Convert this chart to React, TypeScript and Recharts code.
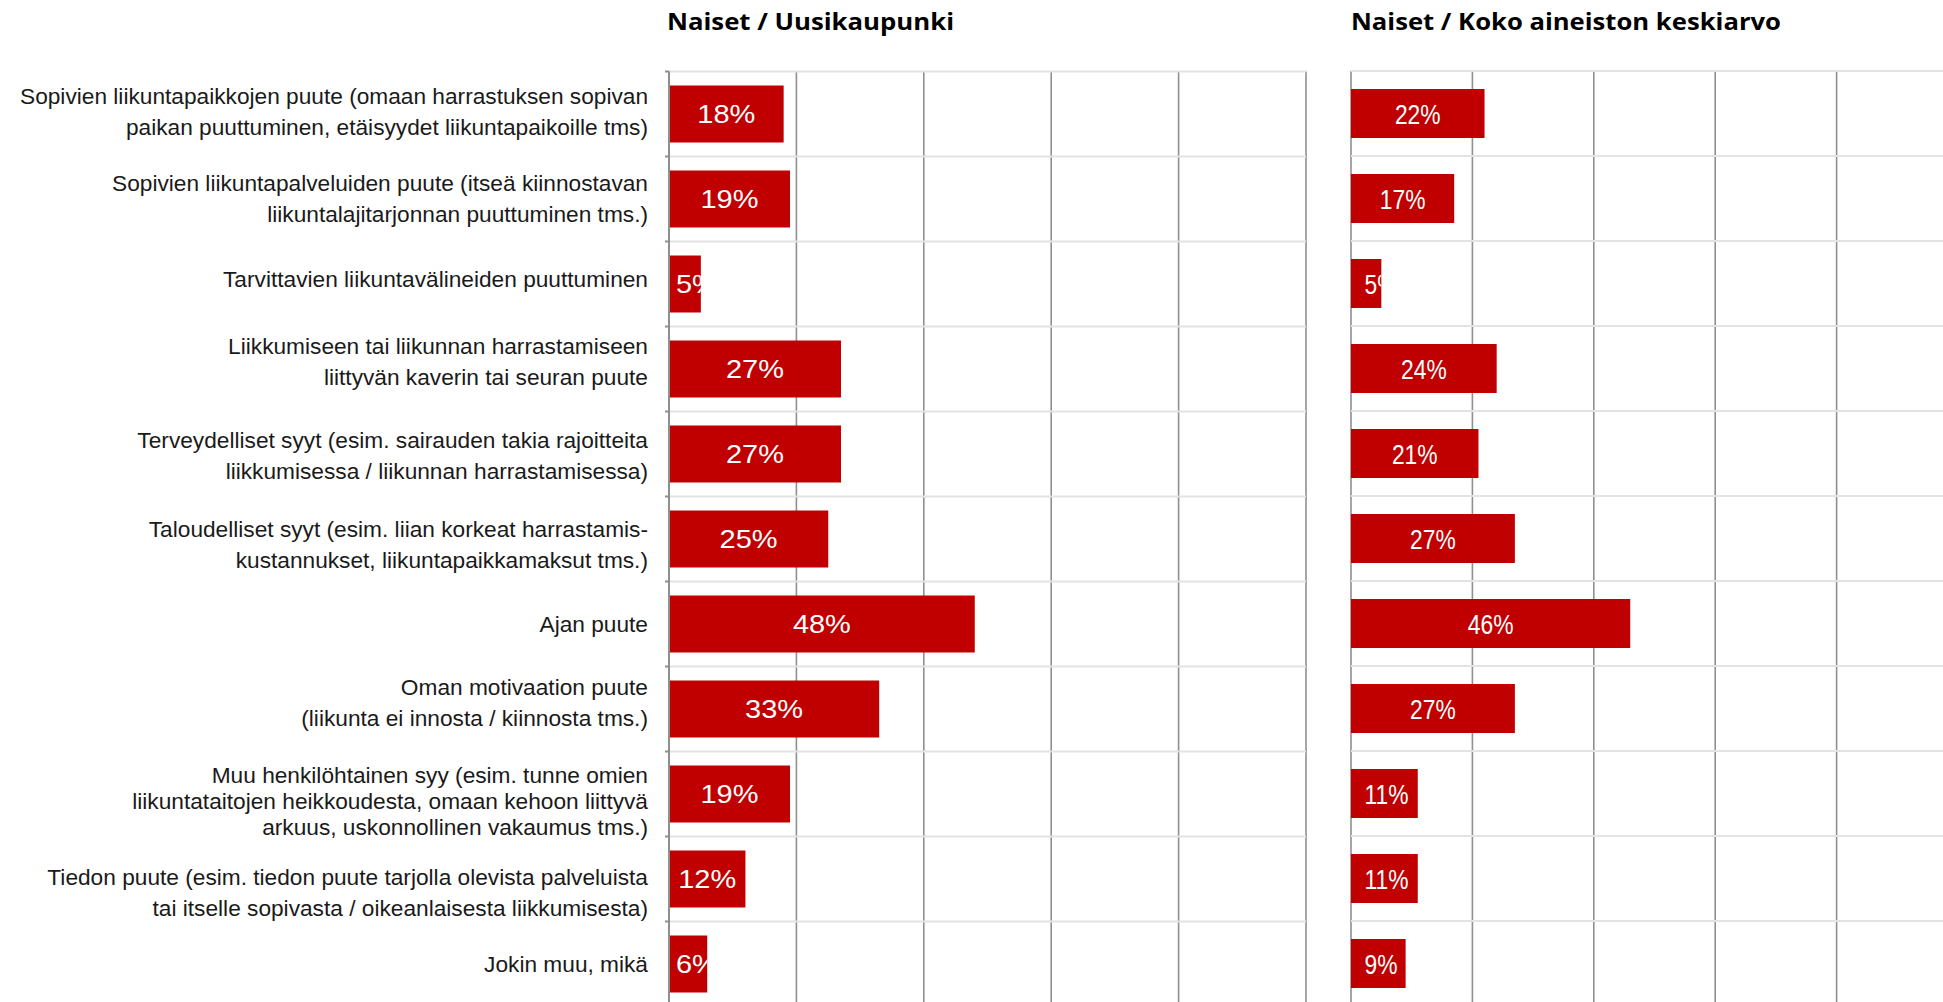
import React from 'react';
import { BarChart, Bar, XAxis, YAxis, CartesianGrid, LabelList } from 'recharts';

// ---------- data ----------
const categories: string[] = [
  'Sopivien liikuntapaikkojen puute (omaan harrastuksen sopivan\npaikan puuttuminen, etäisyydet liikuntapaikoille tms)',
  'Sopivien liikuntapalveluiden puute (itseä kiinnostavan\nliikuntalajitarjonnan puuttuminen tms.)',
  'Tarvittavien liikuntavälineiden puuttuminen',
  'Liikkumiseen tai liikunnan harrastamiseen\nliittyvän kaverin tai seuran puute',
  'Terveydelliset syyt (esim. sairauden takia rajoitteita\nliikkumisessa / liikunnan harrastamisessa)',
  'Taloudelliset syyt (esim. liian korkeat harrastamis-\nkustannukset, liikuntapaikkamaksut tms.)',
  'Ajan puute',
  'Oman motivaation puute\n(liikunta ei innosta / kiinnosta tms.)',
  'Muu henkilöhtainen syy (esim. tunne omien\nliikuntataitojen heikkoudesta, omaan kehoon liittyvä\narkuus, uskonnollinen vakaumus tms.)',
  'Tiedon puute (esim. tiedon puute tarjolla olevista palveluista\ntai itselle sopivasta / oikeanlaisesta liikkumisesta)',
  'Jokin muu, mikä',
];
const uusikaupunki: number[] = [18, 19, 5, 27, 27, 25, 48, 33, 19, 12, 6];
const kokoAineisto: number[] = [22, 17, 5, 24, 21, 27, 46, 27, 11, 11, 9];
const xTicks: number[] = [0, 20, 40, 60, 80, 100];
const titles: string[] = ['Naiset / Uusikaupunki', 'Naiset / Koko aineiston keskiarvo'];

const data = categories.map((c, i) => ({
  category: c,
  uusikaupunki: uusikaupunki[i],
  koko: kokoAineisto[i],
}));

// ---------- layout / style ----------
const N = categories.length;
const PLOT_TOP = 71.5;
const ROW_H = 85;
const CHART_H = PLOT_TOP + N * ROW_H + 0.5;
const BAR_RED = '#C00000';
const V_GRID = '#8f8f8f';
const H_GRID = '#e3e3e3';
const TICK_SIZE = 4;
const TICK_MARGIN = 17;
const LABEL_FONT = "'Liberation Sans', Arial, sans-serif";
const TITLE_FONT = "'Open Sans', 'Noto Sans', sans-serif";
const LABEL_SIZE = 22;
const LABEL_NUDGE = [-1, 1, -3, -6, 3, 7, 2, -5, 9, 15, 2];

let measureCtx: CanvasRenderingContext2D | null | undefined;
function measureText(text: string): number {
  if (measureCtx === undefined) {
    try {
      const c = document.createElement('canvas');
      measureCtx = c.getContext('2d');
      if (measureCtx) measureCtx.font = `${LABEL_SIZE}px ${LABEL_FONT}`;
    } catch (e) {
      measureCtx = null;
    }
  }
  if (!measureCtx) return text.length * 11.5;
  return measureCtx.measureText(text).width;
}
let cachedScale: number | null = null;
function getLabelScale(): number {
  if (cachedScale !== null) return cachedScale;
  const w = measureText(categories[0].split('\n')[0]);
  cachedScale = w > 0 ? 628 / w : 0.9;
  return cachedScale;
}

const CategoryTick = (props: any) => {
  const { x, y, payload } = props;
  const value = String(payload.value);
  const idx = categories.indexOf(value);
  const lines = value.split('\n');
  const n = lines.length;
  const gap = n >= 3 ? 25.8 : 31;
  const cy = Number(y) + (LABEL_NUDGE[idx] ?? 0);
  const axisX = Number(x) + TICK_SIZE + TICK_MARGIN;
  const k = getLabelScale();
  return (
    <g>
      <line
        x1={axisX - TICK_SIZE}
        x2={axisX}
        y1={Number(y) - ROW_H / 2}
        y2={Number(y) - ROW_H / 2}
        stroke={V_GRID}
        strokeWidth={2}
      />
      {lines.map((l, i) => (
        <text
          key={i}
          x={Number(x)}
          y={cy + (i - (n - 1) / 2) * gap + 6}
          textAnchor="end"
          fontFamily={LABEL_FONT}
          fontSize={LABEL_SIZE}
          fill="#1a1a1a"
          textLength={measureText(l) * k}
          lengthAdjust="spacingAndGlyphs"
        >
          {l}
        </text>
      ))}
    </g>
  );
};

const makeValueLabel =
  (opts: { id: string; fontSize: number; stretch: number; pad: number }) => (props: any) => {
    const x = Number(props.x);
    const y = Number(props.y);
    const width = Number(props.width);
    const height = Number(props.height);
    const value = props.value;
    const fs = opts.fontSize;
    const digits = String(value).length;
    const w = (digits * 0.556 + 0.889) * fs * opts.stretch;
    const cx = x + width / 2;
    const left = Math.max(cx - w / 2, x + opts.pad);
    const id = `${opts.id}-${props.index}`;
    return (
      <g>
        <defs>
          <clipPath id={id}>
            <rect x={x} y={y} width={width} height={height} />
          </clipPath>
        </defs>
        <g clipPath={`url(#${id})`}>
          <g transform={`translate(${left} ${y + height / 2 + fs * 0.36}) scale(${opts.stretch} 1)`}>
            <text
              x={0}
              y={0}
              fill="#ffffff"
              fontSize={fs}
              fontFamily="'Liberation Sans', Arial, sans-serif"
            >
              {value}%
            </text>
          </g>
        </g>
      </g>
    );
  };

const vGen = ({ offset }: any) => xTicks.map((t) => offset.left + (offset.width * t) / 100);
const hGen = ({ offset }: any) =>
  Array.from({ length: N + 1 }, (_, i) => offset.top + (offset.height * i) / N);

export default function App() {
  return (
    <div
      style={{
        position: 'absolute',
        left: 0,
        top: 0,
        width: 1943,
        height: 1002,
        overflow: 'hidden',
        background: '#ffffff',
      }}
    >
      <div style={{ position: 'absolute', left: 0, top: 0 }}>
        <BarChart
          width={1310}
          height={CHART_H}
          data={data}
          layout="vertical"
          margin={{ top: PLOT_TOP, right: 4, bottom: 0.5, left: 0 }}
        >
          <CartesianGrid horizontal={false} vertical stroke={V_GRID} strokeWidth={1.6} verticalCoordinatesGenerator={vGen} />
          <CartesianGrid horizontal vertical={false} stroke={H_GRID} strokeWidth={2.2} horizontalCoordinatesGenerator={hGen} />
          <XAxis type="number" domain={[0, 100]} ticks={xTicks} hide />
          <YAxis
            type="category"
            dataKey="category"
            width={669}
            interval={0}
            tickSize={TICK_SIZE}
            tickMargin={TICK_MARGIN}
            tickLine={false}
            axisLine={{ stroke: V_GRID, strokeWidth: 2 }}
            tick={<CategoryTick />}
          />
          <Bar dataKey="uusikaupunki" fill={BAR_RED} barSize={57} isAnimationActive={false}>
            <LabelList
              dataKey="uusikaupunki"
              content={makeValueLabel({ id: 'lu', fontSize: 26, stretch: 1.115, pad: 7 })}
            />
          </Bar>
        </BarChart>
      </div>

      <div style={{ position: 'absolute', left: 1340, top: 0 }}>
        <BarChart
          width={620}
          height={CHART_H}
          data={data}
          layout="vertical"
          margin={{ top: PLOT_TOP - 0.5, right: 2, bottom: 1, left: 11 }}
        >
          <CartesianGrid horizontal={false} vertical stroke={V_GRID} strokeWidth={1.6} verticalCoordinatesGenerator={vGen} />
          <CartesianGrid horizontal vertical={false} stroke={H_GRID} strokeWidth={2.2} horizontalCoordinatesGenerator={hGen} />
          <XAxis type="number" domain={[0, 100]} ticks={xTicks} hide />
          <YAxis
            type="category"
            dataKey="category"
            width={0}
            tick={false}
            tickLine={false}
            axisLine={false}
          />
          <Bar dataKey="koko" fill={BAR_RED} barSize={49} isAnimationActive={false}>
            <LabelList
              dataKey="koko"
              content={makeValueLabel({ id: 'rk', fontSize: 28, stretch: 0.815, pad: 13.5 })}
            />
          </Bar>
        </BarChart>
      </div>

      <svg
        width={1943}
        height={60}
        style={{ position: 'absolute', left: 0, top: 0, pointerEvents: 'none' }}
      >
        <text
          x={667}
          y={30}
          fontFamily={TITLE_FONT}
          fontWeight={700}
          fontSize={24}
          fill="#000"
          textLength={287}
          lengthAdjust="spacingAndGlyphs"
        >
          {titles[0]}
        </text>
        <text
          x={1351}
          y={30}
          fontFamily={TITLE_FONT}
          fontWeight={700}
          fontSize={24}
          fill="#000"
          textLength={430}
          lengthAdjust="spacingAndGlyphs"
        >
          {titles[1]}
        </text>
      </svg>
    </div>
  );
}
